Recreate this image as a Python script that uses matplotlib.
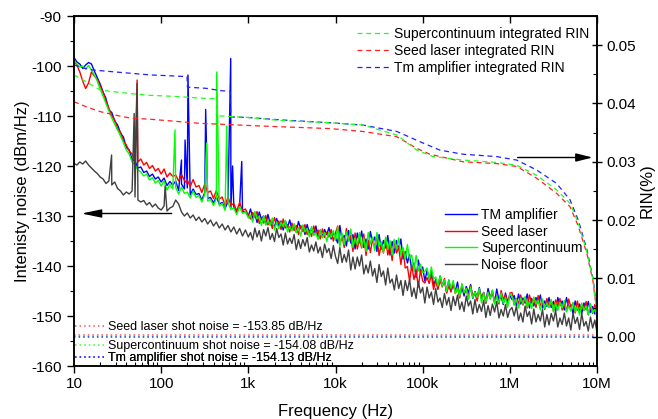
import numpy as np
import matplotlib
matplotlib.use('Agg')
import matplotlib.pyplot as plt
from matplotlib.ticker import FixedLocator, FixedFormatter, MultipleLocator, LogLocator, NullFormatter, FormatStrFormatter
from matplotlib.lines import Line2D

plt.rcParams['font.family'] = ['Liberation Sans', 'DejaVu Sans']
plt.rcParams['axes.unicode_minus'] = False

# spectra sample frequencies: 10 Hz..1 kHz (30 per decade), 1 kHz..10 MHz (40 per decade)
freq_lo = np.logspace(1, 3, 61)
freq_hi = np.logspace(3, 7, 161)[1:]

tm_db_lo = [
    -98.3, -99.2, -99.6, -100.5, -99.8, -99.3, -99.6, -101.0, -102.3, -103.6,
    -105.2, -106.5, -108.8, -109.3, -111.0, -111.8, -113.4, -114.2, -116.3, -116.8,
    -118.7, -119.0, -120.4, -120.2, -121.3, -121.0, -122.1, -121.6, -122.6, -122.2,
    -123.2, -122.4, -123.9, -123.1, -123.8, -123.0, -124.9, -123.6, -124.6, -124.4,
    -125.8, -124.6, -125.7, -125.5, -126.8, -125.3, -126.5, -126.3, -127.4, -126.1,
    -127.6, -127.3, -128.5, -127.1, -128.3, -128.2, -129.3, -128.0, -129.2, -129.1,
    -130.0]
tm_db_hi = [
    -128.6, -130.5, -129.5, -131.3, -129.2, -130.6, -130.0, -131.7, -129.7, -131.5,
    -131.0, -132.3, -130.5, -132.0, -131.0, -132.8, -131.0, -132.2, -130.8, -132.8,
    -131.9, -133.2, -131.1, -132.5, -131.9, -133.7, -131.7, -133.5, -132.5, -133.5,
    -132.0, -134.4, -132.8, -134.2, -132.7, -133.7, -132.3, -134.6, -133.4, -134.3,
    -135.4, -131.9, -134.8, -133.9, -136.0, -132.9, -135.4, -133.7, -136.6, -133.4,
    -135.3, -133.0, -136.3, -134.6, -136.6, -133.1, -135.3, -134.2, -137.1, -133.7,
    -136.6, -134.9, -136.4, -133.9, -137.8, -135.1, -137.4, -134.9, -136.7, -134.6,
    -138.6, -137.1, -139.4, -137.7, -140.9, -139.4, -142.3, -138.8, -141.3, -140.2,
    -143.0, -140.9, -142.6, -141.1, -143.8, -142.7, -144.4, -142.0, -143.8, -143.0,
    -145.3, -142.8, -145.0, -143.8, -145.0, -143.2, -146.1, -144.2, -146.0, -144.1,
    -145.4, -143.7, -146.5, -145.1, -146.2, -144.3, -146.5, -145.3, -147.3, -144.5,
    -146.2, -145.3, -147.3, -144.6, -146.8, -146.1, -147.7, -145.4, -147.2, -145.9,
    -146.7, -145.9, -147.9, -145.6, -147.6, -146.4, -147.4, -145.6, -148.4, -146.5,
    -148.0, -146.3, -147.4, -145.8, -148.4, -147.0, -148.1, -146.3, -148.3, -147.1,
    -149.0, -146.3, -147.9, -147.0, -148.8, -146.3, -148.3, -147.8, -149.5, -147.0,
    -148.8, -147.6, -149.5, -147.4, -148.7, -147.1, -149.3, -148.1, -149.6, -147.8]

seed_db_lo = [
    -99.0, -99.8, -101.2, -103.0, -104.5, -103.4, -101.2, -102.0, -102.6, -104.0,
    -105.3, -107.0, -108.4, -110.0, -110.8, -112.5, -113.2, -115.0, -115.8, -117.0,
    -117.6, -118.8, -119.2, -118.6, -119.8, -119.3, -120.5, -119.9, -121.0, -120.5,
    -121.6, -120.6, -122.2, -121.4, -122.1, -121.8, -123.0, -121.7, -122.9, -122.8,
    -124.1, -122.7, -124.2, -123.9, -125.3, -123.6, -125.3, -125.0, -126.5, -124.9,
    -126.6, -126.2, -127.9, -126.2, -127.8, -127.5, -129.0, -127.3, -128.9, -128.6,
    -129.8]
seed_db_hi = [
    -130.6, -129.3, -130.3, -129.1, -131.5, -130.4, -131.4, -129.9, -131.8, -130.8,
    -132.5, -130.3, -131.7, -131.0, -132.7, -130.6, -132.4, -131.9, -133.2, -131.4,
    -132.9, -131.9, -133.7, -131.9, -133.1, -131.7, -133.7, -132.8, -134.1, -132.0,
    -133.4, -132.8, -134.6, -132.6, -134.3, -133.3, -134.2, -132.7, -135.0, -133.4,
    -132.0, -135.7, -134.0, -136.3, -132.5, -135.0, -133.9, -137.1, -133.4, -136.6,
    -134.7, -136.4, -133.6, -137.9, -134.9, -137.3, -134.6, -136.4, -133.8, -137.9,
    -135.8, -137.4, -134.6, -137.8, -135.9, -138.9, -134.8, -137.4, -136.2, -139.7,
    -136.5, -140.4, -140.1, -143.0, -139.8, -142.7, -140.9, -144.2, -140.8, -143.0,
    -143.4, -142.3, -143.5, -141.7, -144.7, -142.8, -144.7, -142.9, -144.2, -142.5,
    -145.4, -144.0, -145.2, -143.3, -145.5, -144.3, -146.4, -143.7, -145.4, -144.5,
    -146.5, -143.9, -146.1, -145.4, -147.0, -144.7, -146.6, -145.3, -147.5, -145.2,
    -146.6, -144.9, -147.3, -146.0, -147.6, -144.9, -146.6, -145.8, -147.9, -145.4,
    -145.3, -147.8, -146.5, -147.5, -145.8, -147.8, -146.6, -148.4, -145.8, -147.4,
    -146.5, -148.3, -145.9, -147.9, -147.2, -148.7, -146.5, -148.2, -147.0, -149.0,
    -146.8, -148.1, -146.5, -148.8, -147.6, -149.0, -146.6, -148.2, -147.4, -149.4,
    -147.0, -149.1, -147.9, -148.9, -147.1, -149.8, -147.9, -149.5, -147.7, -148.9]

sc_db_lo = [
    -98.8, -99.6, -100.2, -100.0, -100.6, -99.9, -100.8, -101.8, -103.0, -104.6,
    -106.0, -107.5, -109.0, -110.4, -111.6, -112.8, -114.0, -115.3, -116.8, -117.6,
    -119.2, -119.8, -120.8, -121.2, -122.0, -121.6, -122.8, -122.3, -123.4, -122.9,
    -124.0, -123.0, -124.8, -123.7, -124.6, -124.3, -125.6, -124.2, -125.5, -125.2,
    -126.4, -125.0, -126.3, -125.9, -127.2, -125.7, -127.0, -126.7, -127.9, -126.5,
    -128.0, -127.5, -128.9, -127.3, -128.7, -128.4, -129.7, -128.1, -129.5, -129.1,
    -130.4]
sc_db_hi = [
    -129.8, -131.2, -129.1, -130.6, -130.1, -131.9, -130.0, -131.8, -130.9, -131.9,
    -130.4, -132.8, -131.2, -132.6, -131.2, -132.2, -130.9, -133.2, -132.1, -133.0,
    -131.5, -133.3, -132.3, -134.0, -131.8, -133.2, -132.5, -134.2, -132.1, -133.9,
    -133.4, -134.7, -132.9, -134.4, -133.3, -135.1, -133.2, -134.3, -132.9, -134.9,
    -132.2, -136.1, -133.4, -135.7, -133.2, -134.9, -132.6, -136.3, -134.4, -135.8,
    -133.3, -136.2, -134.4, -137.1, -133.3, -135.6, -134.2, -136.9, -133.3, -136.2,
    -135.2, -137.3, -134.2, -136.6, -134.9, -137.8, -134.7, -136.6, -134.4, -137.8,
    -136.3, -138.7, -135.7, -138.6, -137.8, -141.0, -137.9, -141.0, -139.6, -141.3,
    -141.1, -140.4, -142.6, -140.2, -142.6, -142.2, -144.0, -142.0, -144.0, -142.8,
    -145.1, -142.9, -144.5, -142.9, -145.5, -144.3, -146.0, -143.5, -145.3, -144.5,
    -146.7, -144.2, -146.4, -145.2, -146.3, -144.5, -147.4, -145.4, -147.2, -145.3,
    -146.5, -144.8, -147.6, -146.1, -147.3, -145.4, -147.5, -146.3, -148.3, -145.5,
    -146.1, -147.7, -146.6, -148.4, -146.4, -147.6, -146.1, -148.2, -147.1, -148.5,
    -146.2, -147.6, -146.9, -148.8, -146.6, -148.5, -147.4, -148.3, -146.7, -149.2,
    -147.4, -148.9, -147.3, -148.4, -146.9, -149.2, -148.0, -149.0, -147.3, -149.2,
    -148.1, -149.8, -147.4, -148.9, -148.0, -149.7, -147.5, -149.3, -148.7, -150.1]

floor_db_lo = [
    -119.5, -119.8, -119.2, -119.6, -119.0, -119.8, -120.4, -121.0, -121.5, -122.2,
    -122.6, -123.5, -123.0, -123.8, -123.2, -124.5, -125.0, -125.8, -125.2, -125.6,
    -125.0, -126.2, -126.8, -127.2, -126.9, -127.8, -127.3, -128.2, -127.6, -128.4,
    -128.8, -128.0, -129.0, -128.4, -128.1, -126.8, -127.6, -129.2, -130.0, -129.4,
    -130.4, -129.8, -130.9, -130.2, -131.2, -130.5, -131.6, -130.8, -132.0, -131.2,
    -132.4, -131.6, -132.8, -131.9, -133.2, -132.2, -133.6, -132.5, -134.0, -132.8,
    -134.2]
floor_db_hi = [
    -133.3, -134.8, -132.4, -134.2, -132.9, -135.0, -132.7, -134.0, -132.3, -134.7,
    -133.5, -135.1, -132.5, -134.3, -133.6, -135.8, -133.4, -135.6, -134.4, -135.5,
    -133.7, -136.7, -134.7, -136.5, -134.7, -136.0, -134.3, -137.2, -135.8, -137.0,
    -135.2, -137.4, -136.2, -138.3, -135.6, -137.3, -136.5, -138.5, -135.9, -138.1,
    -139.5, -136.3, -139.3, -137.7, -139.2, -136.8, -140.8, -138.2, -140.6, -138.2,
    -140.0, -137.8, -141.6, -139.8, -141.4, -139.0, -142.0, -140.5, -143.3, -139.7,
    -142.1, -141.0, -143.8, -140.4, -143.4, -142.6, -144.8, -141.8, -144.5, -142.9,
    -145.9, -142.9, -144.9, -142.7, -146.1, -144.4, -146.5, -143.1, -145.4, -144.3,
    -147.4, -144.2, -146.4, -145.2, -147.7, -144.5, -147.2, -146.4, -148.3, -145.5,
    -147.8, -146.3, -148.9, -146.1, -147.9, -145.8, -148.7, -147.2, -149.1, -146.0,
    -148.0, -147.0, -149.6, -146.7, -149.3, -147.7, -149.1, -146.9, -150.3, -147.9,
    -149.9, -147.6, -149.2, -147.1, -150.4, -148.7, -150.0, -147.7, -150.3, -148.8,
    -148.3, -150.0, -148.0, -150.9, -149.4, -151.2, -148.0, -150.1, -149.1, -151.6,
    -148.6, -151.2, -149.7, -151.0, -148.7, -152.2, -149.7, -151.8, -149.5, -151.0,
    -148.9, -152.2, -150.4, -151.7, -149.4, -152.0, -150.4, -152.8, -149.4, -151.5,
    -150.3, -152.7, -149.5, -152.0, -151.1, -153.0, -150.2, -152.4, -150.8, -153.3]

# narrow spurs (frequency in Hz, level in dBm/Hz)
tm_spur_f = [171, 188, 203, 324, 628, 660, 840]
tm_spur_db = [-118.8, -114.8, -101.8, -108.7, -98.5, -120.0, -119.1]
seed_spur_f = [53, 197]
seed_spur_db = [-102.8, -123.4]
sc_spur_f = [144, 333, 434, 565]
sc_spur_db = [-112.8, -115.4, -101.2, -112.0]
floor_spur_f = [27, 49, 53, 111]
floor_spur_db = [-117.8, -109.5, -103.5, -124.0]

# integrated RIN (%)
tm_int_f = [10, 15, 30, 75, 150, 198, 200, 330, 480, 620, 630, 1000, 2300, 8650,
            20700, 50600, 101700, 158000, 292000, 706000, 1.2e6, 2.03e6, 3.44e6,
            4.9e6, 6.1e6, 7.67e6, 9.0e6, 1e7]
tm_int = [0.0466, 0.0458, 0.0454, 0.0449, 0.0447, 0.0446, 0.0428, 0.0426, 0.0422,
          0.0421, 0.0377, 0.0376, 0.0372, 0.0367, 0.0363, 0.0352, 0.0332, 0.0320,
          0.0313, 0.0309, 0.0303, 0.0286, 0.0263, 0.0235, 0.0200, 0.0149, 0.0100,
          0.0046]
sc_int_f = [10, 15, 20, 44, 75, 150, 300, 434, 440, 1000, 2300, 8650, 20700, 50600,
            85800, 132000, 292000, 706000, 1.2e6, 2.03e6, 3.44e6, 4.9e6, 6.1e6,
            7.67e6, 9.0e6, 1e7]
sc_int = [0.0449, 0.0434, 0.0423, 0.0417, 0.0414, 0.0412, 0.0409, 0.0408, 0.0379,
          0.0376, 0.0371, 0.0367, 0.0363, 0.0346, 0.0320, 0.0309, 0.0303, 0.0299,
          0.0294, 0.0277, 0.0252, 0.0229, 0.0195, 0.0145, 0.0097, 0.0042]
seed_int_f = [10, 14, 20, 30, 44, 75, 279, 1630, 8650, 20700, 50600, 85800, 121000,
              292000, 706000, 1.2e6, 2.03e6, 3.44e6, 4.9e6, 6.1e6, 7.67e6, 9.0e6, 1e7]
seed_int = [0.0403, 0.0394, 0.0386, 0.0380, 0.0375, 0.0373, 0.0366, 0.0361, 0.0357,
            0.0352, 0.0343, 0.0323, 0.0313, 0.0300, 0.0297, 0.0292, 0.0272, 0.0246,
            0.0223, 0.0190, 0.0142, 0.0095, 0.0040]

shot_labels = ['Seed laser shot noise = -153.85 dB/Hz',
               'Supercontinuum shot noise = -154.08 dB/Hz',
               'Tm amplifier shot noise = -154.13 dB/Hz']
shot_db = [-153.85, -154.08, -154.13]

xtick_vals = [10, 100, 1e3, 1e4, 1e5, 1e6, 1e7]
xtick_labels = ['10', '100', '1k', '10k', '100k', '1M', '10M']

C_BLUE = '#0000ff'
C_RED = '#ff0000'
C_GREEN = '#00ff00'
C_GRAY = '#404040'


def with_spurs(lo, hi, sf, sv):
    ff = np.concatenate([freq_lo, freq_hi, np.asarray(sf, float)])
    vv = np.concatenate([np.asarray(lo, float), np.asarray(hi, float),
                         np.asarray(sv, float)])
    o = np.argsort(ff, kind='stable')
    return ff[o], vv[o]


fig = plt.figure(figsize=(6.58, 4.19), dpi=100)
ax = fig.add_axes([74 / 658, 1 - 366 / 419, 523 / 658, 350 / 419])
ax.set_xscale('log')
ax2 = ax.twinx()

lw = 1.0
f, v = with_spurs(tm_db_lo, tm_db_hi, tm_spur_f, tm_spur_db)
l_tm, = ax.plot(f, v, color=C_BLUE, lw=lw)
f, v = with_spurs(seed_db_lo, seed_db_hi, seed_spur_f, seed_spur_db)
l_seed, = ax.plot(f, v, color=C_RED, lw=lw)
f, v = with_spurs(sc_db_lo, sc_db_hi, sc_spur_f, sc_spur_db)
l_sc, = ax.plot(f, v, color=C_GREEN, lw=lw)
f, v = with_spurs(floor_db_lo, floor_db_hi, floor_spur_f, floor_spur_db)
l_fl, = ax.plot(f, v, color=C_GRAY, lw=lw)

# shot noise levels
shot_colors = ['#ff5050', '#33ff33', '#3333ff']
for val, col in zip(shot_db, shot_colors):
    ax.axhline(val, color=col, lw=1.1, ls=(0, (1, 2)))

ax.set_xlim(10, 1e7)
ax.set_ylim(-160, -90)

ax.xaxis.set_major_locator(FixedLocator(xtick_vals))
ax.xaxis.set_major_formatter(FixedFormatter(xtick_labels))
ax.xaxis.set_minor_locator(LogLocator(base=10, subs=np.arange(2, 10), numticks=20))
ax.xaxis.set_minor_formatter(NullFormatter())
ax.yaxis.set_major_locator(MultipleLocator(10))
ax.yaxis.set_minor_locator(MultipleLocator(5))

ax.tick_params(axis='x', which='major', direction='out', length=5, width=1, labelsize=11, pad=3)
ax.tick_params(axis='x', which='minor', direction='in', length=3, width=0.8)
ax.tick_params(axis='y', which='major', direction='out', length=5, width=1, labelsize=11, pad=4)
ax.tick_params(axis='y', which='minor', direction='out', length=3, width=0.8)
for s in ax.spines.values():
    s.set_linewidth(1.1)

top = ax.secondary_xaxis('top')
top.xaxis.set_major_locator(FixedLocator(xtick_vals))
top.xaxis.set_minor_locator(FixedLocator([]))
top.xaxis.set_major_formatter(NullFormatter())
top.tick_params(axis='x', which='major', direction='in', length=5, width=1)

ax.set_xlabel('Frequency (Hz)', fontsize=12, labelpad=9)
ax.set_ylabel('Intenisty noise (dBm/Hz)', fontsize=12, labelpad=1)

# arrows
ax.annotate('', xy=(12.2, -129.5), xytext=(132, -129.5),
            arrowprops=dict(arrowstyle='-|>,head_length=1.2,head_width=0.25',
                            color='black', lw=1, mutation_scale=10,
                            shrinkA=0, shrinkB=0))
ax.annotate('', xy=(8.9e6, -118.3), xytext=(1.23e6, -118.3),
            arrowprops=dict(arrowstyle='-|>,head_length=1.0,head_width=0.25',
                            color='black', lw=1, mutation_scale=10,
                            shrinkA=0, shrinkB=0))

# legend of spectra
leg1 = ax.legend([l_tm, l_seed, l_sc, l_fl],
                 ['TM amplifier', 'Seed laser', 'Supercontinuum', 'Noise floor'],
                 loc='upper left', bbox_to_anchor=(0.709, 0.452), frameon=False,
                 fontsize=10, handlelength=2.3, handletextpad=0.3,
                 labelspacing=0.2, borderpad=0, borderaxespad=0)
ax.add_artist(leg1)

# shot noise legends
shot_pos = [0.1114, 0.0571, 0.0229]
for col, lab, yp in zip(shot_colors, shot_labels, shot_pos):
    hh = Line2D([], [], color=col, lw=1.1, ls=(0, (1, 2)))
    lg = ax.legend([hh], [lab], loc='center left', bbox_to_anchor=(0.002, yp),
                   frameon=False, fontsize=9, handlelength=2.3,
                   handletextpad=0.3, borderpad=0, borderaxespad=0)
    ax.add_artist(lg)

# right axis: integrated RIN
ax2.set_ylim(-0.005, 0.055)
d_tm, = ax2.plot(tm_int_f, tm_int, color='#2020ff', lw=0.9, ls=(0, (4, 3)))
d_seed, = ax2.plot(seed_int_f, seed_int, color='#ff2020', lw=0.9, ls=(0, (4, 3)))
d_sc, = ax2.plot(sc_int_f, sc_int, color='#20ff20', lw=0.9, ls=(0, (4, 3)))
ax2.set_xlim(10, 1e7)
ax2.yaxis.set_major_locator(MultipleLocator(0.01))
ax2.yaxis.set_minor_locator(MultipleLocator(0.005))
ax2.yaxis.set_major_formatter(FormatStrFormatter('%.2f'))
ax2.tick_params(axis='y', which='major', direction='inout', length=7, width=1, labelsize=11, pad=3)
ax2.tick_params(axis='y', which='minor', direction='in', length=3, width=0.8)
ax2.set_ylabel('RIN(%)', fontsize=12, labelpad=3)
for s in ax2.spines.values():
    s.set_linewidth(1.1)

ax2.legend([d_sc, d_seed, d_tm],
           ['Supercontinuum integrated RIN', 'Seed laser integrated RIN',
            'Tm amplifier integrated RIN'],
           loc='upper left', bbox_to_anchor=(0.541, 0.968), frameon=False,
           fontsize=10, handlelength=2.4, handletextpad=0.3,
           labelspacing=0.2, borderpad=0, borderaxespad=0)

# re-assert x ticks (shared axis)
ax.xaxis.set_major_locator(FixedLocator(xtick_vals))
ax.xaxis.set_major_formatter(FixedFormatter(xtick_labels))

fig.savefig('out.png', dpi=100)
